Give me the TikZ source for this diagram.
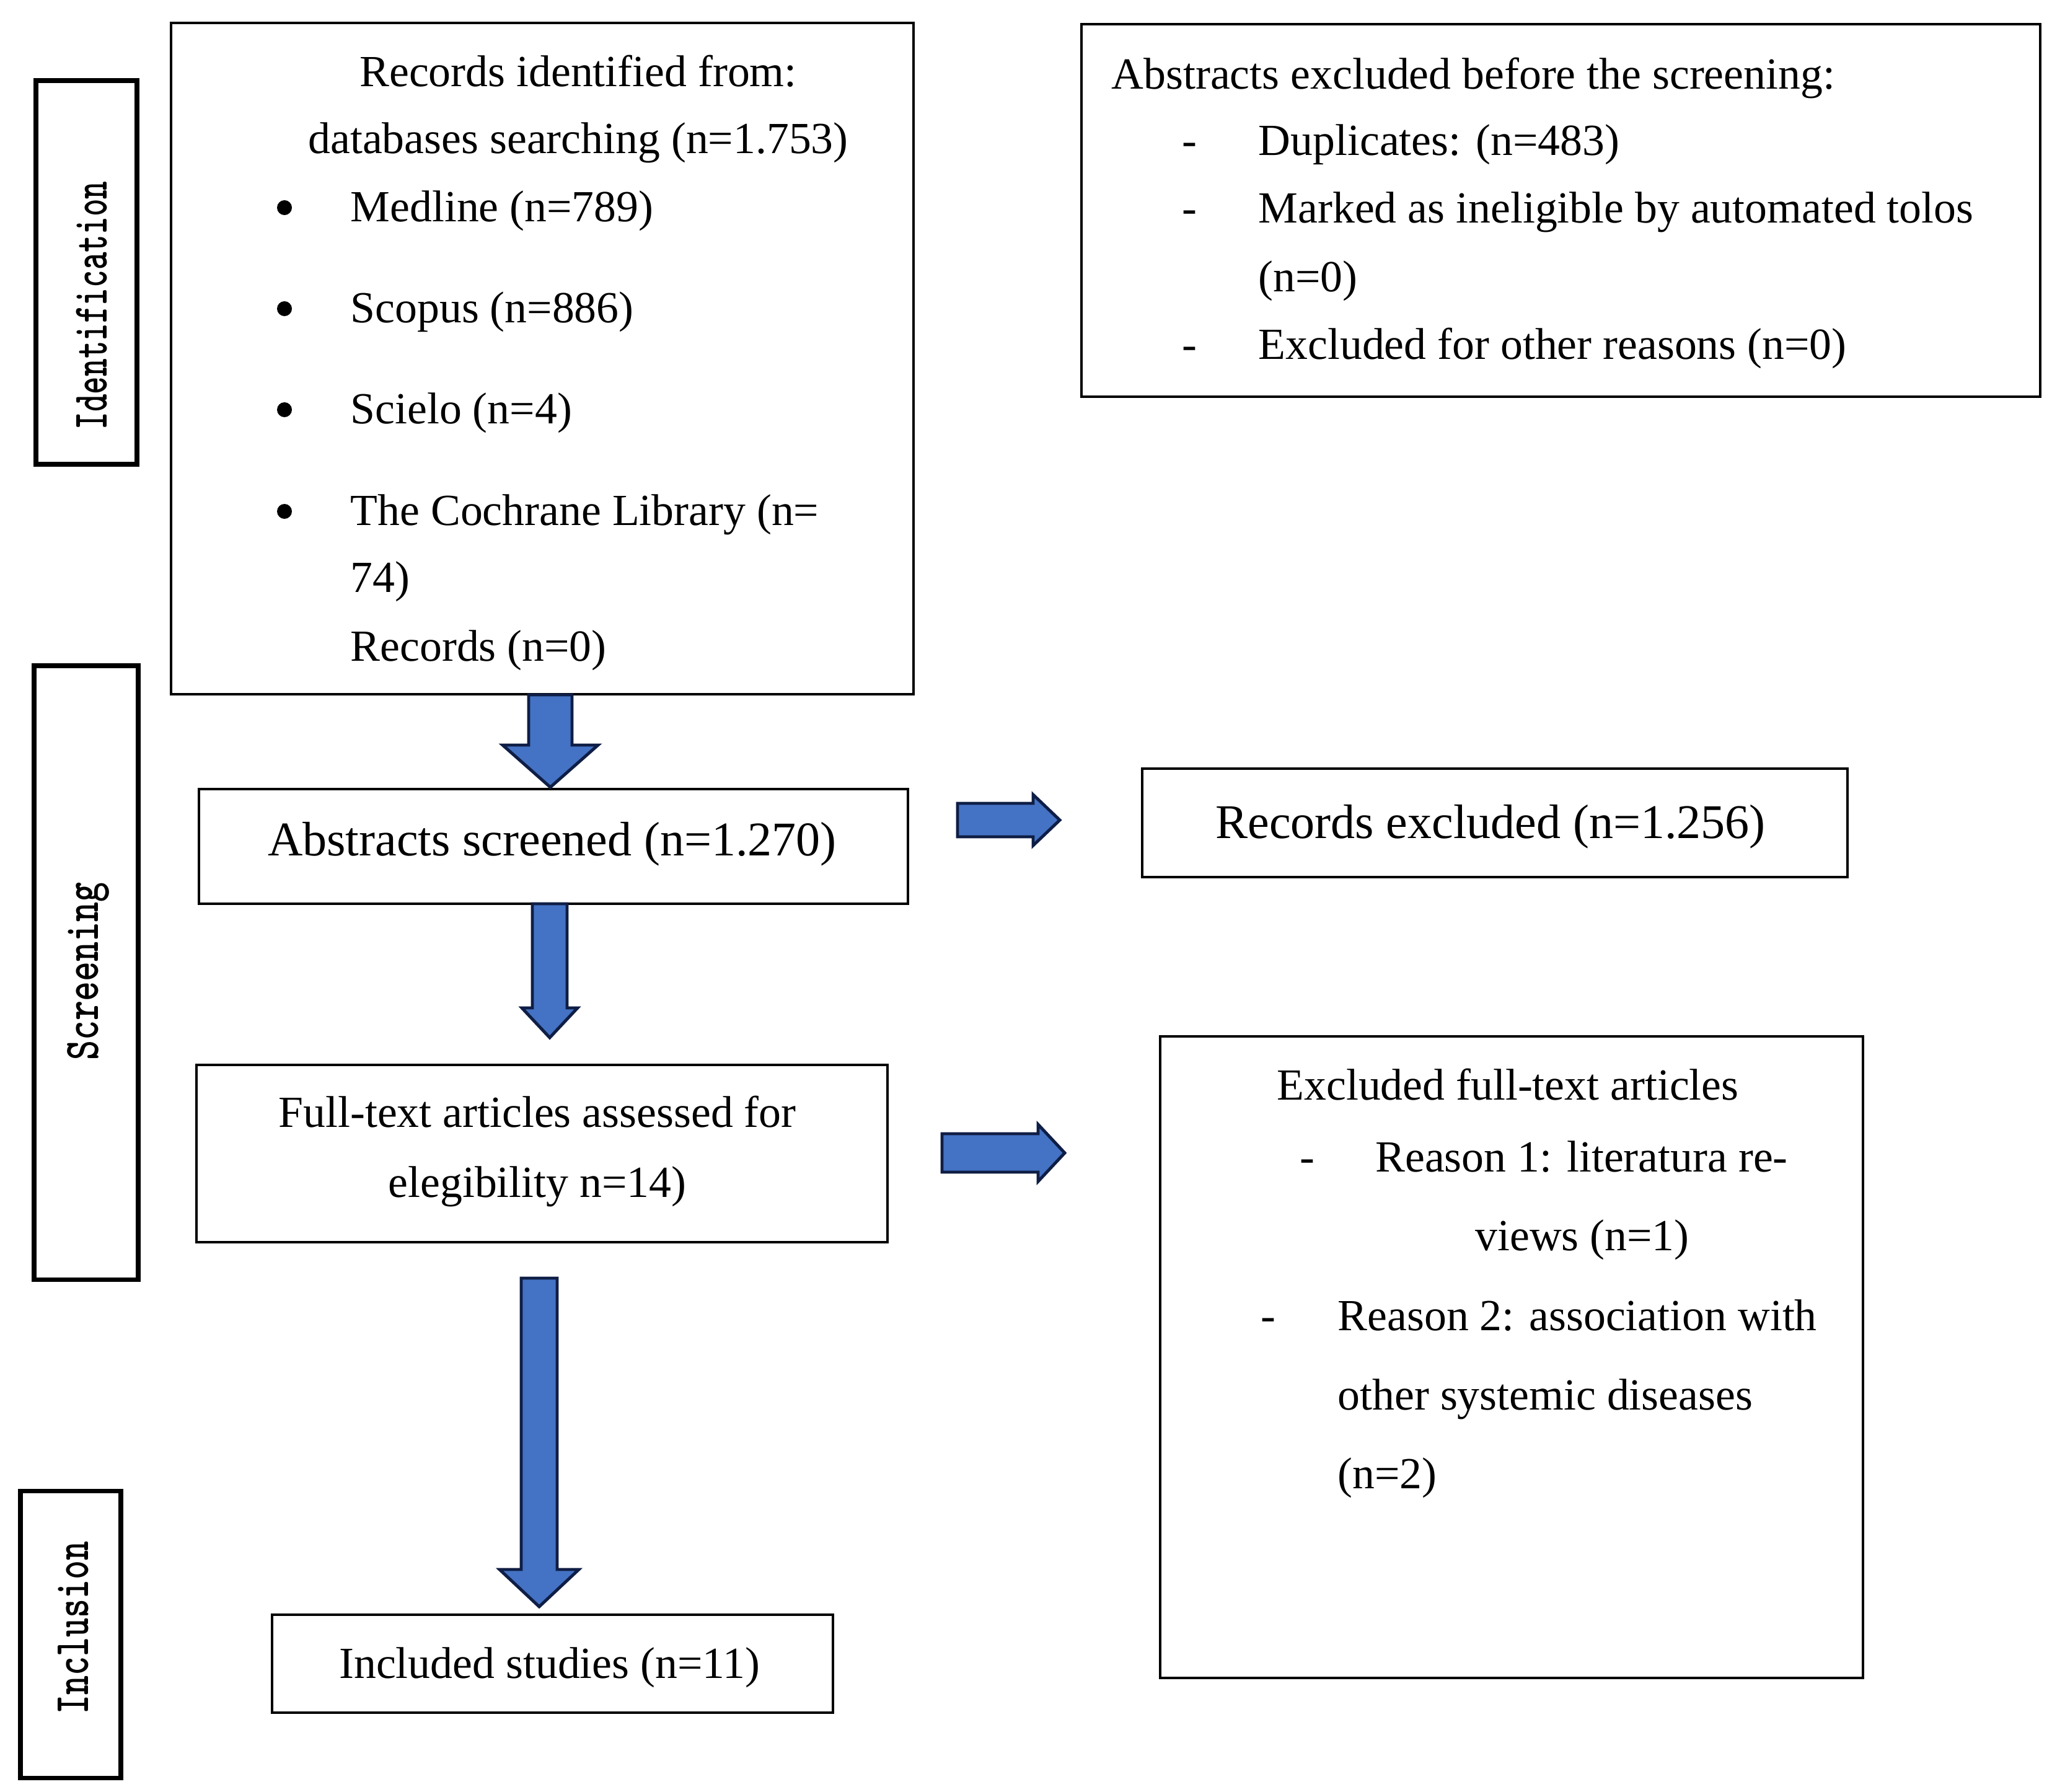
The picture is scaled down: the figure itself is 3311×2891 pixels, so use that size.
\documentclass[tikz,border=0pt]{standalone}
\usepackage{fontspec}
\setmainfont{Liberation Serif}
\usepackage{graphicx}
\usetikzlibrary{fit}
\definecolor{arrowfill}{HTML}{4472C4}
\definecolor{arrowline}{HTML}{0F1E45}
\tikzset{
  box/.style={draw=black, line width=1pt, inner sep=0pt},
  sidebox/.style={draw=black, line width=2pt, inner sep=0pt},
  txt/.style={inner sep=0pt, anchor=base, font=\fontsize{20.4}{24}\selectfont},
  ltxt/.style={txt, anchor=base west},
  bigtxt/.style={inner sep=0pt, anchor=base, font=\fontsize{22.2}{26}\selectfont},
  sidelabel/.style={inner sep=0pt, anchor=base, rotate=90, font=\ttfamily\bfseries\fontsize{22.8}{24}\selectfont},
  bullet/.style={circle, fill=black, inner sep=0pt, minimum size=0.24cm},
  barrow/.style={fill=arrowfill, draw=arrowline, line width=1.4pt, line join=miter},
}
% #1 cx, #2 shaft half width, #3 head half width, #4 top, #5 head start, #6 tip
\newcommand{\FlowDown}[6]{\draw[barrow] ({#1-#2},#4) -- ({#1+#2},#4) -- ({#1+#2},#5) -- ({#1+#3},#5) -- (#1,#6) -- ({#1-#3},#5) -- ({#1-#2},#5) -- cycle;}
% #1 cy, #2 shaft half width, #3 head half width, #4 left, #5 head start, #6 tip
\newcommand{\FlowRight}[6]{\draw[barrow] (#4,{#1-#2}) -- (#5,{#1-#2}) -- (#5,{#1-#3}) -- (#6,#1) -- (#5,{#1+#3}) -- (#5,{#1+#2}) -- (#4,{#1+#2}) -- cycle;}
\begin{document}
\begin{tikzpicture}[x=0.01cm,y=-0.01cm]
\useasboundingbox (0,0) rectangle (3311,2891);
\fill[white] (0,0) rectangle (3311,2891);

% side boxes
\node[sidebox, fit={(58,130) (221,749)}] (sid) {};
\node[sidebox, fit={(55,1074) (223,2064)}] (sscr) {};
\node[sidebox, fit={(33,2405) (195,2868)}] (sinc) {};
\node[sidelabel] (lid) at (172,493) {\scalebox{0.68}[1]{Identification}};
\node[sidelabel] (lscr) at (158,1567) {\scalebox{0.76}[1]{Screening}};
\node[sidelabel] (linc) at (143,2626) {\scalebox{0.735}[1]{Inclusion}};

% boxes
\node[box, fit={(276,37) (1474,1120)}] (main) {};
\node[box, fit={(1745,39) (3292,640)}] (exa) {};
\node[box, fit={(321,1273) (1465,1458)}] (abs) {};
\node[box, fit={(1843,1240) (2981,1415)}] (rex) {};
\node[box, fit={(317,1718) (1432,2004)}] (full) {};
\node[box, fit={(1872,1672) (3006,2707)}] (exf) {};
\node[box, fit={(439,2605) (1344,2763)}] (inc) {};

% main box text
\node[txt] (t1) at (933,140) {Records identified from:};
\node[txt] (t2) at (933,248) {databases searching (n=1.753)};
\node[bullet] (b1) at (459,335) {};
\node[bullet] (b2) at (459,498) {};
\node[bullet] (b3) at (459,661) {};
\node[bullet] (b4) at (459,825) {};
\node[ltxt] (m1) at (565,357) {Medline (n=789)};
\node[ltxt] (m2) at (565,520) {Scopus (n=886)};
\node[ltxt] (m3) at (565,683) {Scielo (n=4)};
\node[ltxt] (m4) at (565,847) {The Cochrane Library (n=};
\node[ltxt] (m5) at (565,955) {74)};
\node[ltxt] (m6) at (565,1066) {Records (n=0)};

% excluded before screening
\node[ltxt] (e0) at (1793,144) {Abstracts excluded before the screening:};
\node[txt] (d1) at (1919,251) {-};
\node[txt] (d2) at (1919,360) {-};
\node[txt] (d3) at (1919,579) {-};
\node[ltxt] (e1) at (2030,251) {Duplicates: (n=483)};
\node[ltxt] (e2) at (2030,360) {Marked as ineligible by automated tolos};
\node[ltxt] (e3) at (2030,470) {(n=0)};
\node[ltxt] (e4) at (2030,579) {Excluded for other reasons (n=0)};

% screening boxes text
\node[bigtxt] (at) at (891,1380) {Abstracts screened (n=1.270)};
\node[bigtxt] (rt) at (2405,1352) {Records excluded (n=1.256)};
\node[txt] (f1) at (867,1818) {Full-text articles assessed for};
\node[txt] (f2) at (867,1931) {elegibility n=14)};
\node[txt] (it) at (887,2707) {Included studies (n=11)};

% excluded full text
\node[txt] (x0) at (2433,1774) {Excluded full-text articles};
\node[txt] (xd1) at (2109,1890) {-};
\node[txt] (x1) at (2552,1890) {Reason 1: literatura re-};
\node[txt] (x2) at (2553,2017) {views (n=1)};
\node[txt] (xd2) at (2046,2146) {-};
\node[ltxt] (x3) at (2158,2146) {Reason 2: association with};
\node[ltxt] (x4) at (2158,2274) {other systemic diseases};
\node[ltxt] (x5) at (2158,2401) {(n=2)};

% block arrows
\FlowDown{888}{35}{77}{1121}{1202}{1270}
\FlowDown{887}{28}{45}{1458}{1626}{1674}
\FlowDown{870}{29}{64}{2062}{2532}{2592}
\FlowRight{1323}{27}{41}{1545}{1667}{1710}
\FlowRight{1860}{31}{46}{1520}{1675}{1718}
\end{tikzpicture}
\end{document}
